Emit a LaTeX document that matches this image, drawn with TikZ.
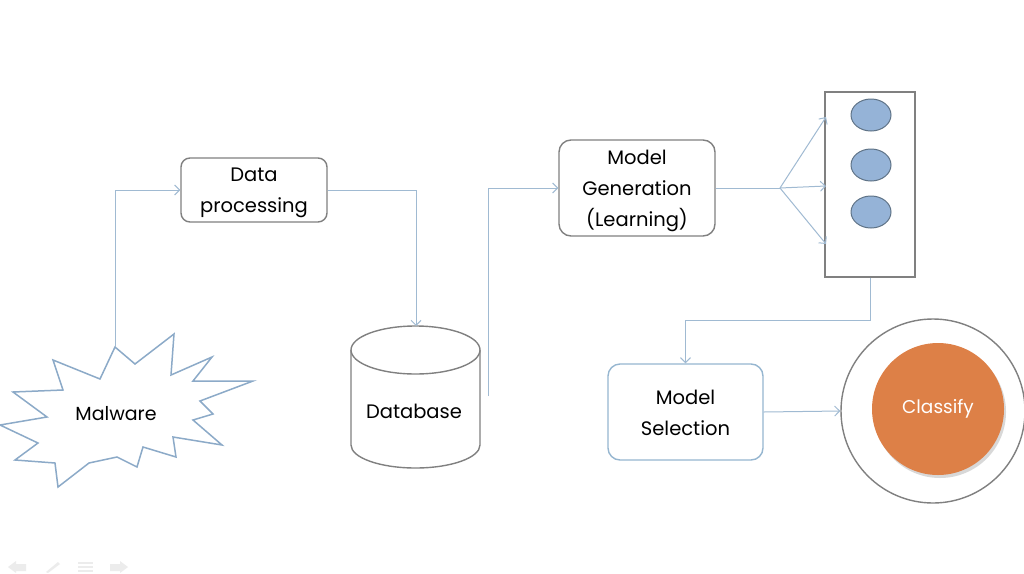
\documentclass[tikz,border=0pt]{standalone}
\usepackage{fontspec}
\setmainfont{Poppins}
\usetikzlibrary{arrows.meta,shadows,shapes.geometric}
\definecolor{connc}{RGB}{160,186,210}
\definecolor{bord}{RGB}{128,128,128}
\definecolor{starc}{RGB}{140,170,200}
\definecolor{ellf}{RGB}{149,179,215}
\definecolor{elld}{RGB}{95,115,135}
\definecolor{orng}{RGB}{221,128,71}
\definecolor{msb}{RGB}{150,182,208}
\definecolor{navc}{RGB}{236,236,236}
\begin{document}
\begin{tikzpicture}[x=1pt,y=-1pt,
  conn/.style={draw=connc, line width=1pt, -{Straight Barb[length=5pt,width=10pt]}},
  plainconn/.style={draw=connc, line width=1pt},
  box/.style={draw=bord, line width=1.4pt, rounded corners=9pt, inner sep=0pt},
  lbl/.style={font=\fontsize{19.5}{31}\selectfont, align=center},
  ell/.style={ellipse, draw=elld, fill=ellf, minimum width=40pt, minimum height=32pt, inner sep=0pt, line width=1pt}]
\useasboundingbox[fill=white] (0,0) rectangle (1024,573);

% Malware star
\draw[starc, line width=1.5pt, fill=white, line join=miter]
 (115,347) -- (135,364) -- (174,334) -- (171,375) -- (212,357) -- (193,381) -- (253,381) -- (200,401)
 -- (213,414) -- (193,420) -- (222,445) -- (173,437) -- (176,457) -- (143,447) -- (137,467) -- (117,457)
 -- (89,463) -- (58,487) -- (55,463) -- (15,460) -- (38,443) -- (0,425) -- (47,417) -- (13,392)
 -- (63,390) -- (53,360) -- (100,379) -- cycle;
\node[font=\fontsize{19}{22}\selectfont] (mw) at (116,414) {Malware};
\coordinate (mwtop) at (115,347);

% Data processing
\node[box, minimum width=146pt, minimum height=64pt,
  label={[lbl, yshift=-3pt]center:Data\\processing}] (dp) at (254,190) {};

% Database cylinder
\draw[bord, line width=1.4pt, fill=white] (351,350) -- (351,445) arc[start angle=180, end angle=360, x radius=64.5pt, y radius=23pt] -- (480,350);
\draw[bord, line width=1.4pt, fill=white] (415.5,350) ellipse [x radius=64.5pt, y radius=24pt];
\node[lbl] (db) at (414,411) {Database};
\coordinate (dbtop) at (416,326);
\coordinate (dbout) at (488,396);

% Model generation
\node[box, rounded corners=12pt, minimum width=156pt, minimum height=96pt,
  label={[lbl, yshift=-3pt]center:Model\\Generation\\(Learning)}] (mg) at (637,188) {};

% Model rectangle with ellipses
\node[draw=bord, line width=1.4pt, minimum width=90pt, minimum height=185pt, inner sep=0pt] (rect) at (870,184.5) {};
\node[ell] (e1) at (871,115) {};
\node[ell] (e2) at (871,165) {};
\node[ell] (e3) at (871,212) {};
\coordinate (fan) at (780,188);
\coordinate (r1) at (826,117);
\coordinate (r2) at (826,186);
\coordinate (r3) at (826,244);

% Model selection
\node[box, draw=msb, rounded corners=12pt, minimum width=155pt, minimum height=96pt,
  label={[lbl, yshift=-1pt]center:Model\\Selection}] (ms) at (685.5,412) {};

% Classify
\node[circle, draw=bord, line width=1.4pt, minimum size=184pt, inner sep=0pt] (outer) at (933,411) {};
\node[circle, fill=orng, minimum size=132pt, inner sep=0pt, text=white,
  drop shadow={opacity=0.3, shadow xshift=2pt, shadow yshift=-3pt},
  font=\fontsize{18.5}{22}\selectfont] (cls) at (938,409) {Classify};

% connectors
\draw[conn] (mwtop) |- (dp.west);
\draw[conn] (dp.east) -| (dbtop);
\draw[conn] (dbout) |- (mg.west);
\draw[plainconn] (mg.east) -- (fan);
\draw[conn] (fan) -- (r1);
\draw[conn] (fan) -- (r2);
\draw[conn] (fan) -- (r3);
\draw[conn] (rect.south) -- ++(0,43) -| (ms.north);
\draw[conn] (ms.east) -- (outer.west);

% faint slide navigation icons
\fill[navc] (8,567) -- (16,561) -- (16,564) -- (26,564) -- (26,571) -- (16,571) -- (16,573) -- cycle;
\fill[navc] (46,572) -- (58,562) -- (60,564) -- (48,573) -- cycle;
\fill[navc] (78,562) rectangle (93,564);
\fill[navc] (78,566) rectangle (93,568);
\fill[navc] (78,570) rectangle (93,572);
\fill[navc] (128,567) -- (120,561) -- (120,564) -- (110,564) -- (110,571) -- (120,571) -- (120,573) -- cycle;
\end{tikzpicture}
\end{document}
